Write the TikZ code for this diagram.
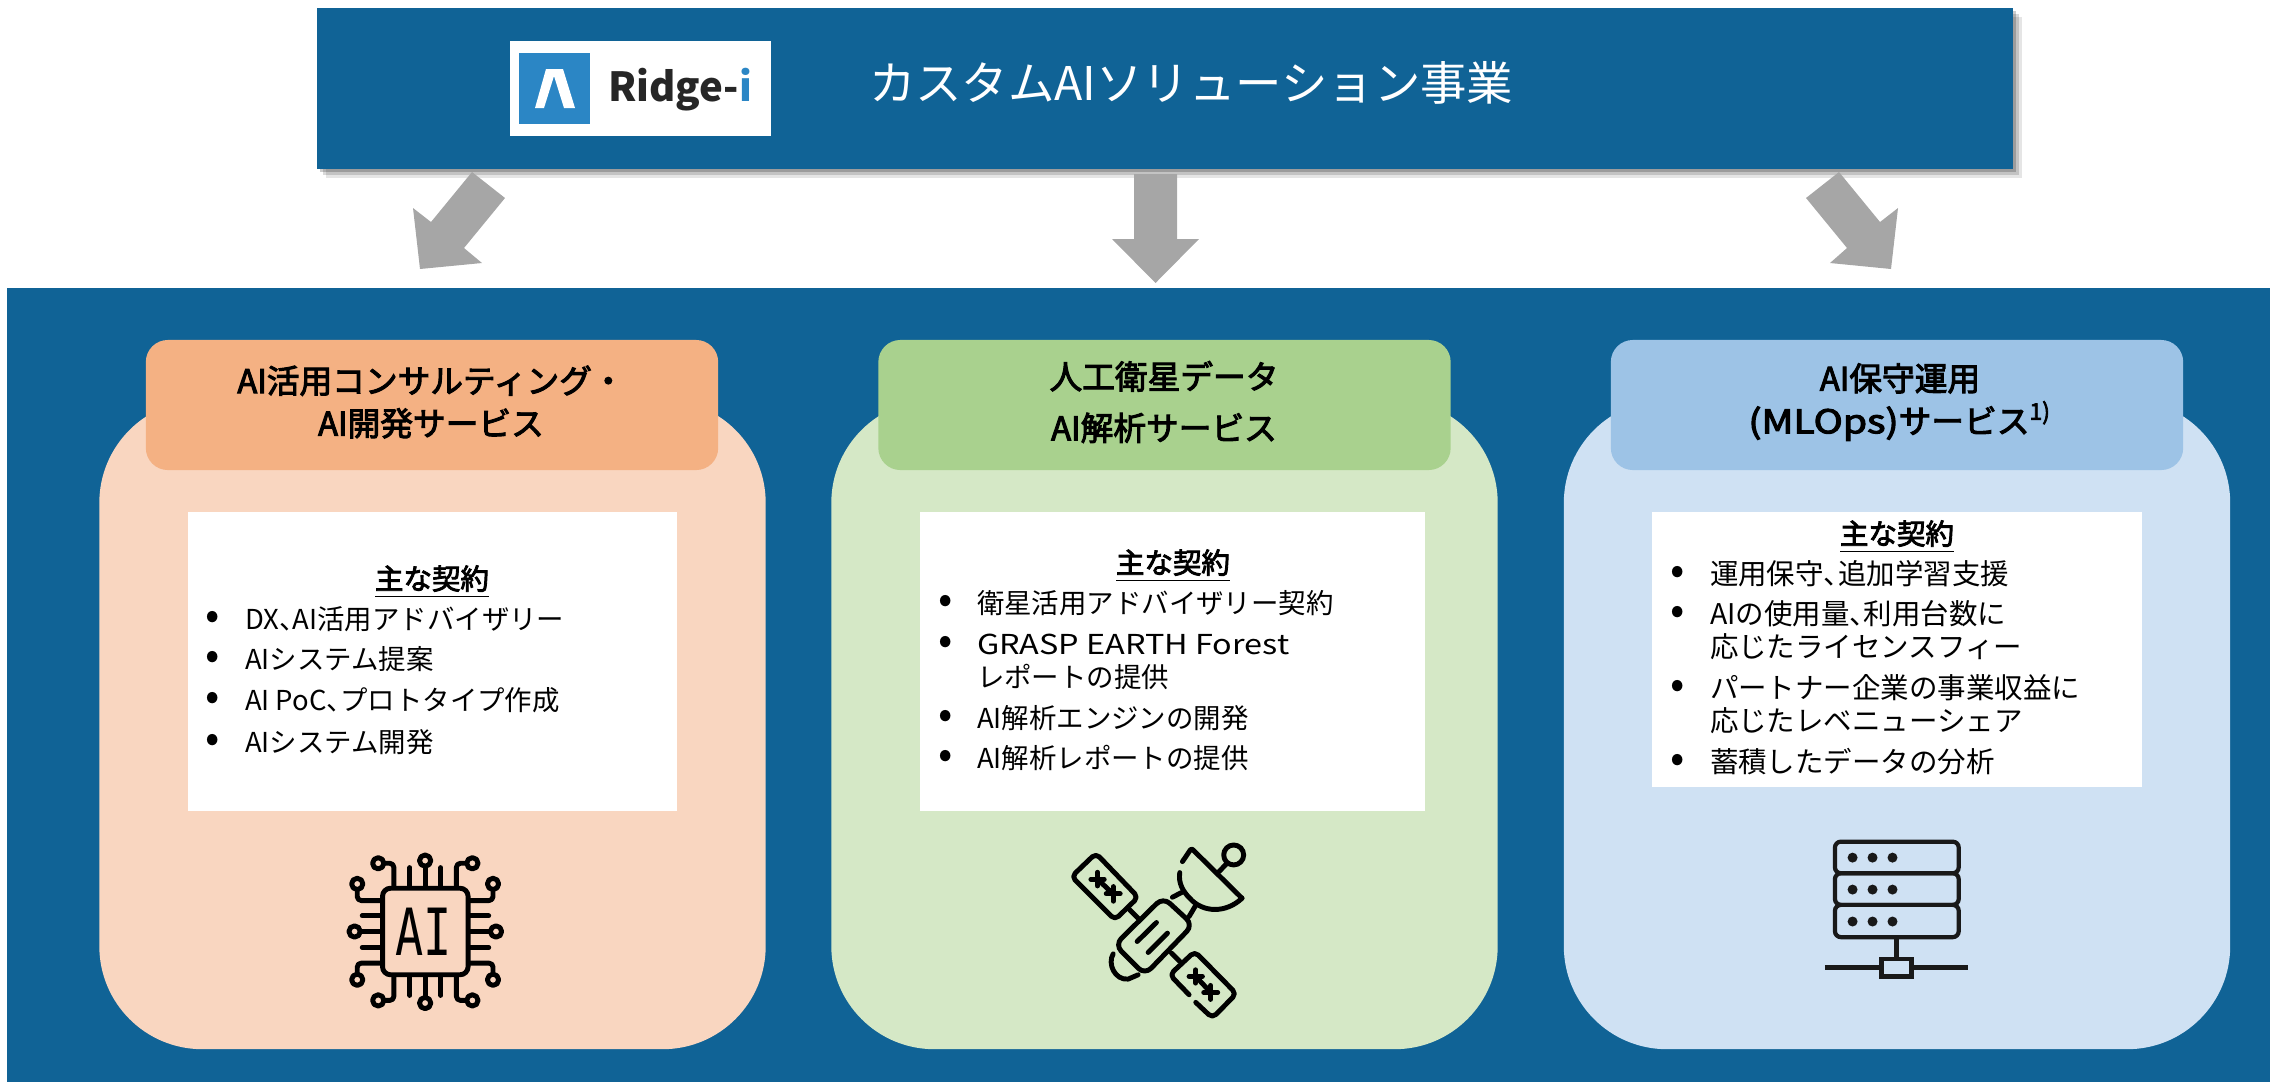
\documentclass[tikz,border=0pt]{standalone}
\usepackage{fontspec}
\usepackage{graphicx}
\setmainfont{Noto Sans CJK JP}
\newfontfamily\chipfont{DejaVu Sans Mono}
\newfontfamily\headfont[FakeBold=3]{Noto Sans CJK JP}
\usepackage{xcolor}
\usetikzlibrary{shadows}
\definecolor{panelblue}{HTML}{106396}
\definecolor{arrowgray}{HTML}{A6A6A6}
\definecolor{cardorange}{HTML}{F9D6C0}
\definecolor{cardgreen}{HTML}{D5E8C6}
\definecolor{cardblue}{HTML}{CFE1F3}
\definecolor{headorange}{HTML}{F4B183}
\definecolor{headgreen}{HTML}{A9D18E}
\definecolor{headblue}{HTML}{9DC3E6}
\definecolor{logoblue}{HTML}{2B86C5}
\newcommand{\tenten}{、\kern-.5em}
\tikzstyle{every node}=[inner sep=0pt,outer sep=0pt,text height=.88em,text depth=.12em]
\tikzstyle{areabox}=[rectangle,text height=,text depth=]
\tikzstyle{cardbox}=[areabox,minimum width=6.66cm,minimum height=6.49cm,rounded corners=1.03cm]
\tikzstyle{headbox}=[areabox,minimum width=5.72cm,minimum height=1.3cm,rounded corners=.22cm]
\tikzstyle{headtext}=[align=center,text height=,text depth=,font=\fontsize{9.3pt}{12.1pt}\selectfont\headfont]
\tikzstyle{listhead}=[font=\fontsize{8.1pt}{9pt}\selectfont\headfont]
\tikzstyle{listtext}=[anchor=west,font=\fontsize{7.8pt}{9pt}\selectfont]
\tikzstyle{listbig}=[anchor=west,font=\fontsize{8.1pt}{9pt}\selectfont]
\tikzstyle{listdot}=[font=\fontsize{12pt}{13pt}\selectfont]
\tikzstyle{bigarrow}=[fill=arrowgray]
\tikzstyle{iconline}=[line width=1.4pt,line cap=round,line join=round,black]

\begin{document}
\begin{tikzpicture}[x=0.01cm,y=-0.01cm]
\useasboundingbox (0,0) rectangle (2270,1081);

\node[areabox,fill=panelblue,minimum width=22.7cm,minimum height=8cm] (panel) at (1143,688) {};
\node[areabox,fill=panelblue,minimum width=16.95cm,minimum height=1.61cm,drop shadow={shadow xshift=.09cm,shadow yshift=-.09cm,fill=black,opacity=.1},drop shadow={shadow xshift=.06cm,shadow yshift=-.06cm,fill=black,opacity=.15},drop shadow={shadow xshift=.03cm,shadow yshift=-.03cm,fill=black,opacity=.2}] (topbar) at (1164.5,88.5) {};
\node[areabox,fill=white,minimum width=2.61cm,minimum height=.95cm] (logo) at (640.5,88.5) {};
\node[areabox,fill=logoblue,minimum width=.71cm,minimum height=.71cm] (logomark) at (554.5,88.5) {};
\fill[white] (535,108) -- (546,69) -- (563,69) -- (575,108) -- (564,108) -- (554,76) -- (544,108) -- cycle;
\node[anchor=west,font=\fontsize{11.4pt}{12pt}\selectfont\bfseries,text=black!85] (logotext) at (608,88) {Ridge-\textcolor{logoblue}{i}};
\node[anchor=west,text=white,font=\fontsize{13.2pt}{14pt}\selectfont] (toptext) at (869,87) {カスタムAIソリューション事業};

\fill[bigarrow] (472,172) -- (505,198) -- (464,248) -- (482,263) -- (420,269) -- (413,208) -- (431,222) -- cycle;
\fill[bigarrow] (1134,174) -- (1177,174) -- (1177,239) -- (1199,239) -- (1155.5,283) -- (1112,239) -- (1134,239) -- cycle;
\fill[bigarrow] (1839,172) -- (1806,198) -- (1847,248) -- (1830,263) -- (1891,269) -- (1898,208) -- (1880,222) -- cycle;

\node[cardbox,fill=cardorange] (card1) at (432.5,724.5) {};
\node[cardbox,fill=cardgreen] (card2) at (1164.5,724.5) {};
\node[cardbox,fill=cardblue] (card3) at (1897,724.5) {};
\node[headbox,fill=headorange] (head1) at (432,405) {};
\node[headbox,fill=headgreen] (head2) at (1164.5,405) {};
\node[headbox,fill=headblue] (head3) at (1897,405) {};
\node[headtext] (headtext1) at (431,402) {AI活用コンサルティング・\\AI開発サービス};
\node[headtext,font=\fontsize{9.3pt}{14.6pt}\selectfont\headfont] (headtext2) at (1164,402) {人工衛星データ\\AI解析サービス};
\node[headtext] (headtext3) at (1900,402) {AI保守運用\\\scalebox{1.2}[1]{(MLOps)}サービス\textsuperscript{1)}};

\node[areabox,fill=white,minimum width=4.89cm,minimum height=2.99cm] (list1) at (432.5,661.5) {};
\node[areabox,fill=white,minimum width=5.05cm,minimum height=2.99cm] (list2) at (1172.5,661.5) {};
\node[areabox,fill=white,minimum width=4.9cm,minimum height=2.75cm] (list3) at (1897,649.5) {};

\node[listhead] (title1) at (432,576) {\underline{主な契約}};
\node[listdot] (dot11) at (213,616) {•};
\node[listtext] (item11) at (245,616) {DX\tenten AI活用アドバイザリー};
\node[listdot] (dot12) at (213,656) {•};
\node[listtext] (item12) at (245,656) {AIシステム提案};
\node[listdot] (dot13) at (213,697) {•};
\node[listtext] (item13) at (245,697) {AI PoC\tenten プロトタイプ作成};
\node[listdot] (dot14) at (213,739) {•};
\node[listtext] (item14) at (245,739) {AIシステム開発};

\node[listhead] (title2) at (1173,560) {\underline{主な契約}};
\node[listdot] (dot21) at (946,600) {•};
\node[listtext] (item21) at (977,600) {衛星活用アドバイザリー契約};
\node[listdot] (dot22) at (946,641) {•};
\node[listtext] (item22) at (977,641) {\scalebox{1.18}[1]{GRASP EARTH Forest}};
\node[listtext] (item22b) at (977,674) {レポートの提供};
\node[listdot] (dot23) at (946,715) {•};
\node[listtext] (item23) at (977,715) {AI解析エンジンの開発};
\node[listdot] (dot24) at (946,755) {•};
\node[listtext] (item24) at (977,755) {AI解析レポートの提供};

\node[listhead] (title3) at (1897,531) {\underline{主な契約}};
\node[listdot] (dot31) at (1678,571) {•};
\node[listbig] (item31) at (1710,571) {運用保守\tenten 追加学習支援};
\node[listdot] (dot32) at (1678,611) {•};
\node[listbig] (item32) at (1710,611) {AIの使用量\tenten 利用台数に};
\node[listbig] (item32b) at (1710,644) {応じたライセンスフィー};
\node[listdot] (dot33) at (1678,685) {•};
\node[listbig] (item33) at (1710,685) {パートナー企業の事業収益に};
\node[listbig] (item33b) at (1710,718) {応じたレベニューシェア};
\node[listdot] (dot34) at (1678,759) {•};
\node[listbig] (item34) at (1710,759) {蓄積したデータの分析};

\begin{scope}[shift={(300,820)},x=0.003333cm,y=-0.003333cm,iconline]
\draw[rounded corners=.08cm] (248,205) rectangle (505,465);
\node[font=\fontsize{18.5pt}{19pt}\selectfont\chipfont,text height=,text depth=] (chiptext) at (372,337) {\scalebox{.72}[1]{AI}};
\draw[rounded corners=.04cm] (282,200) -- (282,130) -- (252,130);
\draw (235,130) circle (17);
\draw (330,200) -- (330,143);
\draw (376,200) -- (376,140);
\draw (376,122) circle (17);
\draw (423,200) -- (423,143);
\draw[rounded corners=.04cm] (470,200) -- (470,130) -- (500,130);
\draw (518,130) circle (17);
\draw[rounded corners=.04cm] (243,242) -- (172,242) -- (172,210);
\draw (172,192) circle (17);
\draw (243,288) -- (187,288);
\draw (243,335) -- (182,335);
\draw (164,335) circle (17);
\draw (243,383) -- (187,383);
\draw[rounded corners=.04cm] (243,430) -- (172,430) -- (172,462);
\draw (172,480) circle (17);
\draw[rounded corners=.04cm] (510,242) -- (580,242) -- (580,210);
\draw (580,192) circle (17);
\draw (510,288) -- (567,288);
\draw (510,335) -- (571,335);
\draw (589,335) circle (17);
\draw (510,383) -- (567,383);
\draw[rounded corners=.04cm] (510,430) -- (580,430) -- (580,462);
\draw (580,480) circle (17);
\draw[rounded corners=.04cm] (282,470) -- (282,542) -- (252,542);
\draw (235,542) circle (17);
\draw (330,470) -- (330,527);
\draw (376,470) -- (376,532);
\draw (376,550) circle (17);
\draw (423,470) -- (423,527);
\draw[rounded corners=.04cm] (470,470) -- (470,542) -- (500,542);
\draw (518,542) circle (17);
\end{scope}

\begin{scope}[shift={(1030,820)},x=0.003333cm,y=-0.003333cm,iconline]
\draw[rounded corners=.05cm] (198,100) -- (325,232) -- (255,300) -- (125,170) -- cycle;
\draw (203,157) -- (203,198);
\draw (183,178) -- (223,178);
\draw (203,178) -- (250,222);
\draw (250,200) -- (250,244);
\draw (229,222) -- (271,222);
\draw (300,270) -- (325,295);
\draw[rounded corners=.09cm] (400,232) -- (490,315) -- (345,465) -- (255,375) -- cycle;
\draw (322,365) -- (380,308);
\draw (355,398) -- (413,340);
\draw (250,402) .. controls (232,432) and (255,482) .. (295,478) -- (325,465);
\draw (428,232) -- (455,218);
\draw (478,290) -- (497,258);
\draw[rounded corners=.02cm] (458,125) -- (485,85) -- (637,235);
\draw (637,235) .. controls (590,280) and (520,280) .. (480,235) .. controls (460,215) and (445,190) .. (450,158);
\draw (568,155) -- (590,132);
\draw (612,105) circle (30);
\draw[rounded corners=.05cm] (478,525) -- (420,465) -- (495,395) -- (620,522) -- (548,595) -- (498,548);
\draw (425,400) -- (450,425);
\draw (498,450) -- (498,490);
\draw (478,470) -- (518,470);
\draw (498,470) -- (543,518);
\draw (543,497) -- (543,539);
\draw (522,518) -- (564,518);
\end{scope}

\begin{scope}[shift={(1780,820)},x=0.003333cm,y=-0.003333cm,line width=1.2pt,black!90]
\draw[rounded corners=.06cm] (165,65) rectangle (537,160);
\draw[rounded corners=.06cm] (165,160) rectangle (537,255);
\draw[rounded corners=.06cm] (165,255) rectangle (537,352);
\fill (218,113) circle (15);
\fill (278,113) circle (15);
\fill (338,113) circle (15);
\fill (218,209) circle (15);
\fill (278,209) circle (15);
\fill (338,209) circle (15);
\fill (218,305) circle (15);
\fill (278,305) circle (15);
\fill (338,305) circle (15);
\draw (350,352) -- (350,417);
\draw (305,417) rectangle (395,470);
\draw (135,443) -- (305,443);
\draw (395,443) -- (565,443);
\end{scope}
\end{tikzpicture}
\end{document}
